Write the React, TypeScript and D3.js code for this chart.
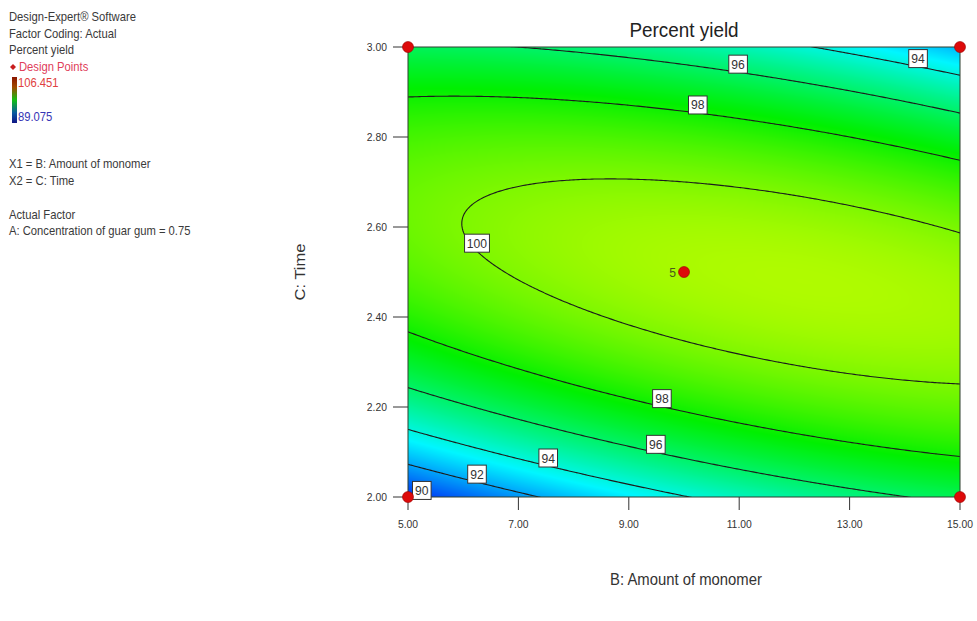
import React, { useMemo } from "react";
import * as d3 from "d3";

// Factor ranges (actual units)
const rangeB = [5, 15]; // B: Amount of monomer
const rangeC = [2, 3]; // C: Time
const xTicks = [5, 7, 9, 11, 13, 15];
const yTicks = [2.0, 2.2, 2.4, 2.6, 2.8, 3.0];

// Quadratic response surface in coded units (A held at 0.75)
// terms: intercept, B, C, BC, B², C²
const modelCoefficients = [100.765, 0.625, 0.587, -2.608, -0.85, -6.24];

const contourLevels = [90, 92, 94, 96, 98, 100];
const colorRange = [89.075, 106.451];

const designPoints = [
  { b: 5, c: 2, n: 1 },
  { b: 5, c: 3, n: 1 },
  { b: 15, c: 2, n: 1 },
  { b: 15, c: 3, n: 1 },
  { b: 10, c: 2.5, n: 5 },
];

// contour labels: level, B position, which crossing of the level at that B
const contourLabels = [
  { level: 94, b: 14.24, branch: "upper" },
  { level: 96, b: 10.98, branch: "upper" },
  { level: 98, b: 10.25, branch: "upper" },
  { level: 100, b: 6.25, branch: "lower" },
  { level: 98, b: 9.6, branch: "lower" },
  { level: 96, b: 9.49, branch: "lower" },
  { level: 94, b: 7.54, branch: "lower" },
  { level: 92, b: 6.25, branch: "lower" },
  { level: 90, b: 5.25, branch: "lower" },
];

const infoLines = [
  "Design-Expert® Software",
  "Factor Coding: Actual",
  "Percent yield",
];
const factorLines = ["X1 = B: Amount of monomer", "X2 = C: Time"];
const actualLines = ["Actual Factor", "A: Concentration of guar gum = 0.75"];

const W = 977;
const H = 621;
const plot = { left: 408, top: 47, right: 960, bottom: 497 };
const FONT = "'Liberation Sans', Arial, sans-serif";
const SQ = 0.9; // horizontal text condensing

const midB = (rangeB[0] + rangeB[1]) / 2;
const halfB = (rangeB[1] - rangeB[0]) / 2;
const midC = (rangeC[0] + rangeC[1]) / 2;
const halfC = (rangeC[1] - rangeC[0]) / 2;

function predict(b: number, c: number) {
  const x = (b - midB) / halfB;
  const t = (c - midC) / halfC;
  const [a0, a1, a2, a12, a11, a22] = modelCoefficients;
  return a0 + a1 * x + a2 * t + a12 * x * t + a11 * x * x + a22 * t * t;
}

// solve the model for C at a given B and level
function solveC(b: number, level: number, branch: string) {
  const x = (b - midB) / halfB;
  const [a0, a1, a2, a12, a11, a22] = modelCoefficients;
  const A = a22;
  const B = a2 + a12 * x;
  const C = a0 + a1 * x + a11 * x * x - level;
  const disc = Math.max(0, B * B - 4 * A * C);
  const r1 = (-B + Math.sqrt(disc)) / (2 * A);
  const r2 = (-B - Math.sqrt(disc)) / (2 * A);
  const t = branch === "upper" ? Math.max(r1, r2) : Math.min(r1, r2);
  return midC + t * halfC;
}

const colorScale = d3
  .scaleLinear<string>()
  .domain([0, 0.25, 0.5, 0.75, 1].map((f) => colorRange[0] + f * (colorRange[1] - colorRange[0])))
  .range(["#0000f0", "#00f6ff", "#00f000", "#f4ff00", "#ff0000"])
  .clamp(true);

function Txt(props: any) {
  const { x, y, anchor = "start", size = 12, fill = "#333", children, ...rest } = props;
  return (
    <text
      transform={`translate(${x},${y}) scale(${SQ},1)`}
      textAnchor={anchor}
      fontSize={size}
      fontFamily={FONT}
      fill={fill}
      {...rest}
    >
      {children}
    </text>
  );
}

export default function App() {
  const xScale = d3.scaleLinear().domain(rangeB).range([plot.left, plot.right]);
  const yScale = d3.scaleLinear().domain(rangeC).range([plot.bottom, plot.top]);
  const pw = plot.right - plot.left;
  const ph = plot.bottom - plot.top;

  const surface = useMemo(() => {
    const canvas = document.createElement("canvas");
    canvas.width = pw;
    canvas.height = ph;
    const ctx = canvas.getContext("2d");
    if (!ctx) return "";
    const img = ctx.createImageData(pw, ph);
    for (let j = 0; j < ph; j++) {
      const c = yScale.invert(plot.top + j + 0.5);
      for (let i = 0; i < pw; i++) {
        const b = xScale.invert(plot.left + i + 0.5);
        const col = d3.rgb(colorScale(predict(b, c)));
        const k = (j * pw + i) * 4;
        img.data[k] = col.r;
        img.data[k + 1] = col.g;
        img.data[k + 2] = col.b;
        img.data[k + 3] = 255;
      }
    }
    ctx.putImageData(img, 0, 0);
    return canvas.toDataURL();
  }, []);

  const contourPaths = useMemo(() => {
    const N = 240;
    const pad = 3;
    const n = N + 2 * pad + 1;
    const stepB = (rangeB[1] - rangeB[0]) / N;
    const stepC = (rangeC[1] - rangeC[0]) / N;
    const values = new Array(n * n);
    for (let j = 0; j < n; j++) {
      const c = rangeC[1] - (j - pad) * stepC;
      for (let i = 0; i < n; i++) {
        const b = rangeB[0] + (i - pad) * stepB;
        values[j * n + i] = predict(b, c);
      }
    }
    const gen = d3.contours().size([n, n]).thresholds(contourLevels);
    const proj = d3.geoTransform({
      point(px: number, py: number) {
        const b = rangeB[0] + (px - 0.5 - pad) * stepB;
        const c = rangeC[1] - (py - 0.5 - pad) * stepC;
        (this as any).stream.point(xScale(b), yScale(c));
      },
    });
    const path = d3.geoPath(proj);
    return gen(values).map((g) => ({ level: g.value, d: path(g as any) || "" }));
  }, []);

  const labels = contourLabels.map((l) => {
    const c = solveC(l.b, l.level, l.branch);
    return { ...l, x: xScale(l.b), y: yScale(c) };
  });

  return (
    <svg
      width={W}
      height={H}
      style={{ position: "absolute", left: 0, top: 0, background: "#fff" }}
    >
      <defs>
        <clipPath id="plotClip">
          <rect x={plot.left} y={plot.top} width={pw} height={ph} />
        </clipPath>
        <linearGradient id="legendGrad" x1="0" y1="0" x2="0" y2="1">
          <stop offset="0" stopColor="#8a1600" />
          <stop offset="0.22" stopColor="#a04a00" />
          <stop offset="0.5" stopColor="#12c012" />
          <stop offset="0.78" stopColor="#0a5aa0" />
          <stop offset="1" stopColor="#101585" />
        </linearGradient>
      </defs>

      {/* info panel */}
      {infoLines.map((s, i) => (
        <Txt key={s} x={9} y={21 + i * 16.5} size={12.5} fill="#3a3a3a">
          {s}
        </Txt>
      ))}
      <path d="M13,64 L16,67 L13,70 L10,67 Z" fill="#c81e1e" />
      <Txt x={19} y={71} size={12.5} fill="#e0405a">
        Design Points
      </Txt>
      <rect x={12} y={77} width={5} height={46} fill="url(#legendGrad)" />
      <Txt x={18} y={87} size={12.5} fill="#e04040">
        {colorRange[1].toFixed(3)}
      </Txt>
      <Txt x={18} y={121} size={12.5} fill="#3535b5">
        {colorRange[0].toFixed(3)}
      </Txt>
      {factorLines.map((s, i) => (
        <Txt key={s} x={9} y={168 + i * 17} size={12.5} fill="#3a3a3a">
          {s}
        </Txt>
      ))}
      {actualLines.map((s, i) => (
        <Txt key={s} x={9} y={219 + i * 16} size={12.5} fill="#3a3a3a">
          {s}
        </Txt>
      ))}

      {/* title */}
      <Txt x={(plot.left + plot.right) / 2} y={37} anchor="middle" size={21} fill="#222">
        Percent yield
      </Txt>

      {/* surface */}
      <image
        href={surface}
        x={plot.left}
        y={plot.top}
        width={pw}
        height={ph}
        preserveAspectRatio="none"
      />

      {/* contour lines */}
      <g clipPath="url(#plotClip)">
        {contourPaths.map((p) => (
          <path key={p.level} d={p.d} fill="none" stroke="#1c1c1c" strokeWidth={1.1} />
        ))}
      </g>

      <rect
        x={plot.left}
        y={plot.top}
        width={pw}
        height={ph}
        fill="none"
        stroke="#2f3f2f"
        strokeWidth={1}
      />

      {/* contour labels, sitting on their line */}
      {labels.map((l, i) => {
        const txt = String(l.level);
        const bw = txt.length * 6.3 + 6;
        return (
          <g key={i}>
            <rect
              x={l.x - bw / 2}
              y={l.y - 17}
              width={bw}
              height={18}
              fill="#fff"
              stroke="#333"
              strokeWidth={1}
            />
            <Txt x={l.x} y={l.y - 3.5} anchor="middle" size={13.5} fill="#333">
              {txt}
            </Txt>
          </g>
        );
      })}

      {/* x axis */}
      {xTicks.map((v) => (
        <g key={v}>
          <line
            x1={xScale(v)}
            x2={xScale(v)}
            y1={plot.bottom}
            y2={plot.bottom + 13}
            stroke="#333"
            strokeWidth={1}
          />
          <Txt x={xScale(v)} y={plot.bottom + 31} anchor="middle" size={11.5} fill="#333">
            {v.toFixed(2)}
          </Txt>
        </g>
      ))}
      {/* y axis */}
      {yTicks.map((v) => (
        <g key={v}>
          <line
            x1={plot.left - 15}
            x2={plot.left}
            y1={yScale(v)}
            y2={yScale(v)}
            stroke="#333"
            strokeWidth={1}
          />
          <Txt x={plot.left - 21} y={yScale(v) + 4} anchor="end" size={11.5} fill="#333">
            {v.toFixed(2)}
          </Txt>
        </g>
      ))}

      <Txt x={686} y={585} anchor="middle" size={16.5} fill="#333">
        B: Amount of monomer
      </Txt>
      <text
        transform={`translate(305,272) scale(${SQ},1) rotate(-90)`}
        textAnchor="middle"
        fontSize={16.5}
        fontFamily={FONT}
        fill="#333"
      >
        C: Time
      </text>

      {/* design points */}
      {designPoints.map((p, i) => (
        <g key={i}>
          <ellipse
            cx={xScale(p.b)}
            cy={yScale(p.c)}
            rx={5.5}
            ry={5.5}
            fill="#dd0a0a"
            stroke="#900"
            strokeWidth={0.6}
          />
          {p.n > 1 && (
            <Txt x={xScale(p.b) - 8} y={yScale(p.c) + 5} anchor="end" size={13.5} fill="#4a5a1a">
              {String(p.n)}
            </Txt>
          )}
        </g>
      ))}
    </svg>
  );
}
